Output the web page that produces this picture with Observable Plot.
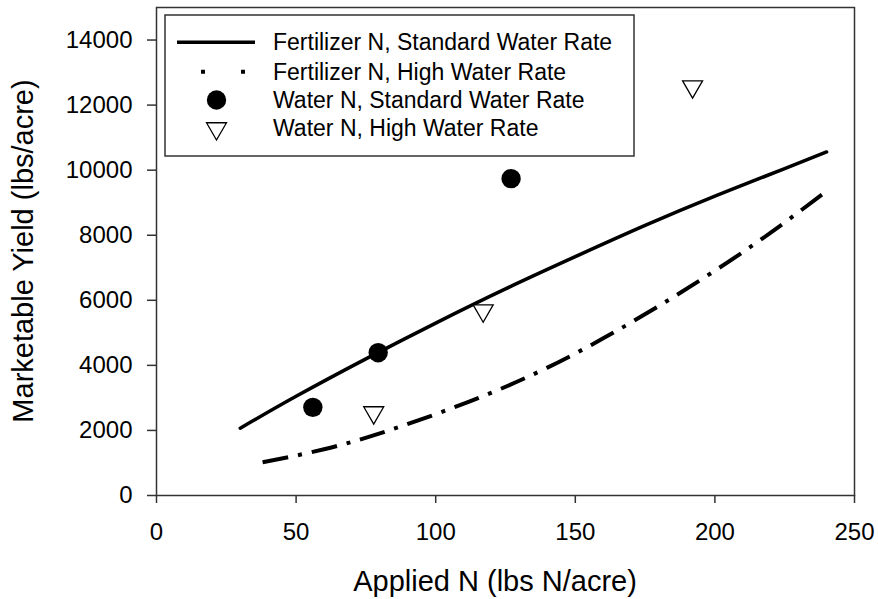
<!DOCTYPE html>
<html>
<head>
<meta charset="utf-8">
<script src="https://cdn.jsdelivr.net/npm/d3@7"></script>
<script src="https://cdn.jsdelivr.net/npm/@observablehq/plot@0.6"></script>
<style>
  body { margin: 0; background: #fff; }
  #chart svg { display: block; font-family: "Liberation Sans", Arial, sans-serif; }
</style>
</head>
<body>
<div id="chart"></div>
<script>
// Fitted yield response to fertilizer N
const fertStdN = [30, 50, 75, 100, 125, 150, 175, 200, 225, 240];
const fertStdYield = [2070, 3050, 4200, 5300, 6350, 7340, 8300, 9200, 10050, 10560];
const fertHighN = [38, 60, 80, 100, 120, 140, 160, 180, 200, 220, 240];
const fertHighYield = [1020, 1420, 1910, 2500, 3160, 3930, 4830, 5830, 6910, 8080, 9360];

// Observed yields where N came from the irrigation water
const waterStdN = [56, 79.4, 127];
const waterStdYield = [2710, 4390, 9740];
const waterHighN = [77.8, 117, 192];
const waterHighYield = [2550, 5680, 12570];

const xTicks = [0, 50, 100, 150, 200, 250];
const yTicks = [0, 2000, 4000, 6000, 8000, 10000, 12000, 14000];

const seriesLabels = [
  "Fertilizer N, Standard Water Rate",
  "Fertilizer N, High Water Rate",
  "Water N, Standard Water Rate",
  "Water N, High Water Rate"
];
const xTitle = "Applied N (lbs N/acre)";
const yTitle = "Marketable Yield (lbs/acre)";

const zip = (xs, ys) => xs.map((x, i) => ({x, y: ys[i]}));
const fertStd = zip(fertStdN, fertStdYield);
const fertHigh = zip(fertHighN, fertHighYield);
const waterStd = zip(waterStdN, waterStdYield);
const waterHigh = zip(waterHighN, waterHighYield);

// Downward-pointing open triangle (same area convention as d3.symbolTriangle)
const triangleDown = {
  draw(ctx, size) {
    const y = Math.sqrt(size / (Math.sqrt(3) * 3));
    ctx.moveTo(0, 2 * y);
    ctx.lineTo(-Math.sqrt(3) * y, -y);
    ctx.lineTo(Math.sqrt(3) * y, -y);
    ctx.closePath();
  }
};

const axisColor = "#333";
const dashDot = "26,10,4,10";

const chart = Plot.plot({
  width: 878,
  height: 599,
  marginLeft: 156,
  marginRight: 24,
  marginTop: 7,
  marginBottom: 104,
  style: {fontFamily: '"Liberation Sans", Arial, sans-serif', fontSize: "24px", color: "#000", background: "#fff"},
  x: {domain: [0, 250]},
  y: {domain: [0, 15000]},
  marks: [
    Plot.frame({stroke: axisColor, strokeWidth: 1.5}),
    Plot.axisX({ticks: xTicks, tickSize: 8, tickPadding: 19, label: null, fontSize: 24, stroke: axisColor, strokeWidth: 1.5, tickFormat: d3.format("d")}),
    Plot.axisY({ticks: yTicks, tickSize: 9, tickPadding: 15, label: null, fontSize: 24, stroke: axisColor, strokeWidth: 1.5, tickFormat: d3.format("d")}),
    Plot.line(fertStd, {x: "x", y: "y", curve: "natural", stroke: "#000", strokeWidth: 3.5}),
    Plot.line(fertHigh, {x: "x", y: "y", curve: "natural", stroke: "#000", strokeWidth: 4, strokeDasharray: dashDot, strokeLinecap: "butt"}),
    Plot.dot(waterStd, {x: "x", y: "y", r: 9.7, fill: "#000", stroke: "none"}),
    Plot.dot(waterHigh, {x: "x", y: "y", r: 7.42, symbol: triangleDown, fill: "#fff", stroke: "#000", strokeWidth: 1.3})
  ]
});

const svg = d3.select(chart);

// Axis titles
svg.append("text")
  .attr("x", 495).attr("y", 591)
  .attr("text-anchor", "middle")
  .attr("font-size", 29).attr("fill", "#000")
  .text(xTitle);
svg.append("text")
  .attr("transform", "translate(33,251) rotate(-90)")
  .attr("text-anchor", "middle")
  .attr("font-size", 29).attr("fill", "#000")
  .text(yTitle);

// Legend box in the upper-left corner of the plot area
const lg = svg.append("g");
lg.append("rect")
  .attr("x", 165).attr("y", 15).attr("width", 469).attr("height", 141)
  .attr("fill", "#fff").attr("stroke", axisColor).attr("stroke-width", 1.5);

const rowY = [42.3, 71.7, 100, 128.5];
const sampleX = 216.5;

lg.append("line")
  .attr("x1", 177).attr("x2", 255).attr("y1", rowY[0]).attr("y2", rowY[0])
  .attr("stroke", "#000").attr("stroke-width", 3.5);
lg.append("line")
  .attr("x1", 201).attr("x2", 245).attr("y1", rowY[1]).attr("y2", rowY[1])
  .attr("stroke", "#000").attr("stroke-width", 4).attr("stroke-dasharray", "4,36");
lg.append("circle")
  .attr("cx", sampleX).attr("cy", rowY[2]).attr("r", 9.7).attr("fill", "#000");
lg.append("path")
  .attr("transform", `translate(${sampleX},${rowY[3]})`)
  .attr("d", d3.symbol(triangleDown, 7.42 * 7.42 * Math.PI)())
  .attr("fill", "#fff").attr("stroke", "#000").attr("stroke-width", 1.3);

lg.selectAll("text.lab")
  .data(seriesLabels)
  .join("text")
  .attr("class", "lab")
  .attr("x", 273)
  .attr("y", (d, i) => rowY[i] + 7.9)
  .attr("text-anchor", "start")
  .attr("font-size", 23)
  .attr("fill", "#000")
  .text(d => d);

document.getElementById("chart").appendChild(chart);
</script>
</body>
</html>
